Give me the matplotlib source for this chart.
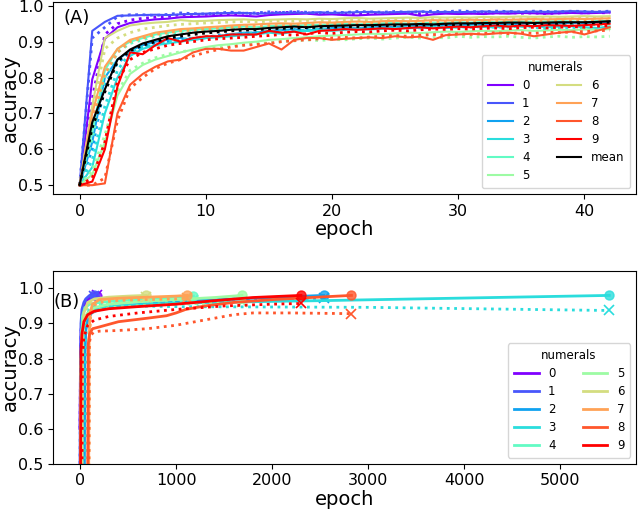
import numpy as np
import matplotlib
matplotlib.use("Agg")
import matplotlib.pyplot as plt

#--- Panel A: accuracy per epoch, solid = train, dotted = test
acc_0 = [0.5, 0.795, 0.908, 0.94, 0.952, 0.958, 0.962, 0.964, 0.968, 0.969, 0.97, 0.972, 0.973, 0.972, 0.97, 0.974, 0.976, 0.977, 0.978, 0.975, 0.976, 0.974, 0.973, 0.975, 0.976, 0.977, 0.978, 0.972, 0.976, 0.978, 0.977, 0.978, 0.977, 0.979, 0.978, 0.98, 0.979, 0.978, 0.979, 0.98, 0.979, 0.98, 0.981]
acc_0_dot = [0.5, 0.74, 0.92, 0.95, 0.96, 0.965, 0.968, 0.97, 0.975, 0.976, 0.976, 0.978, 0.977, 0.979, 0.978, 0.98, 0.981, 0.982, 0.98, 0.979, 0.978, 0.977, 0.976, 0.979, 0.98, 0.981, 0.98, 0.978, 0.979, 0.981, 0.982, 0.98, 0.979, 0.98, 0.981, 0.979, 0.98, 0.978, 0.98, 0.981, 0.98, 0.981, 0.98]
acc_1 = [0.5, 0.93, 0.955, 0.972, 0.973, 0.974, 0.975, 0.974, 0.976, 0.977, 0.978, 0.979, 0.98, 0.98, 0.978, 0.979, 0.98, 0.981, 0.98, 0.982, 0.98, 0.981, 0.982, 0.983, 0.981, 0.982, 0.983, 0.984, 0.982, 0.983, 0.982, 0.983, 0.984, 0.983, 0.984, 0.983, 0.984, 0.983, 0.984, 0.985, 0.984, 0.983, 0.984]
acc_1_dot = [0.5, 0.91, 0.94, 0.97, 0.975, 0.975, 0.973, 0.976, 0.98, 0.978, 0.977, 0.98, 0.982, 0.979, 0.98, 0.983, 0.981, 0.984, 0.982, 0.98, 0.983, 0.981, 0.984, 0.983, 0.982, 0.984, 0.982, 0.983, 0.985, 0.983, 0.986, 0.984, 0.983, 0.985, 0.984, 0.983, 0.985, 0.984, 0.983, 0.985, 0.984, 0.983, 0.985]
acc_2 = [0.5, 0.62, 0.80, 0.85, 0.875, 0.89, 0.9, 0.905, 0.91, 0.905, 0.91, 0.915, 0.92, 0.925, 0.925, 0.93, 0.932, 0.935, 0.93, 0.935, 0.938, 0.94, 0.937, 0.94, 0.942, 0.94, 0.945, 0.943, 0.945, 0.947, 0.945, 0.948, 0.947, 0.95, 0.948, 0.95, 0.952, 0.95, 0.951, 0.953, 0.952, 0.954, 0.955]
acc_2_dot = [0.5, 0.6, 0.78, 0.84, 0.87, 0.885, 0.895, 0.9, 0.905, 0.91, 0.912, 0.918, 0.92, 0.922, 0.925, 0.928, 0.93, 0.932, 0.933, 0.935, 0.936, 0.938, 0.936, 0.939, 0.94, 0.942, 0.941, 0.943, 0.944, 0.945, 0.944, 0.946, 0.947, 0.946, 0.948, 0.947, 0.949, 0.95, 0.948, 0.95, 0.951, 0.95, 0.952]
acc_3 = [0.5, 0.55, 0.70, 0.80, 0.86, 0.88, 0.89, 0.895, 0.9, 0.905, 0.91, 0.912, 0.915, 0.918, 0.92, 0.925, 0.922, 0.928, 0.93, 0.932, 0.93, 0.933, 0.935, 0.934, 0.936, 0.938, 0.937, 0.939, 0.94, 0.938, 0.94, 0.942, 0.941, 0.94, 0.943, 0.942, 0.944, 0.94, 0.942, 0.943, 0.94, 0.938, 0.942]
acc_3_dot = [0.5, 0.57, 0.72, 0.82, 0.87, 0.885, 0.89, 0.9, 0.905, 0.91, 0.915, 0.915, 0.92, 0.922, 0.925, 0.928, 0.93, 0.93, 0.932, 0.935, 0.933, 0.936, 0.935, 0.937, 0.938, 0.936, 0.94, 0.938, 0.94, 0.939, 0.941, 0.94, 0.942, 0.94, 0.941, 0.943, 0.94, 0.936, 0.938, 0.94, 0.937, 0.935, 0.936]
acc_4 = [0.5, 0.65, 0.82, 0.88, 0.9, 0.91, 0.92, 0.925, 0.93, 0.933, 0.935, 0.937, 0.94, 0.942, 0.94, 0.943, 0.945, 0.944, 0.946, 0.947, 0.948, 0.95, 0.948, 0.95, 0.951, 0.952, 0.95, 0.951, 0.953, 0.952, 0.954, 0.953, 0.955, 0.954, 0.955, 0.956, 0.955, 0.956, 0.957, 0.956, 0.955, 0.957, 0.958]
acc_4_dot = [0.5, 0.63, 0.8, 0.87, 0.895, 0.905, 0.915, 0.92, 0.925, 0.928, 0.93, 0.933, 0.935, 0.937, 0.936, 0.94, 0.938, 0.94, 0.942, 0.94, 0.943, 0.944, 0.942, 0.945, 0.944, 0.946, 0.945, 0.947, 0.946, 0.948, 0.947, 0.946, 0.948, 0.949, 0.947, 0.948, 0.95, 0.948, 0.949, 0.95, 0.948, 0.947, 0.949]
acc_5 = [0.5, 0.53, 0.62, 0.75, 0.81, 0.835, 0.85, 0.86, 0.87, 0.878, 0.885, 0.89, 0.893, 0.897, 0.9, 0.905, 0.907, 0.91, 0.912, 0.915, 0.917, 0.918, 0.92, 0.922, 0.921, 0.923, 0.925, 0.924, 0.926, 0.928, 0.927, 0.929, 0.93, 0.929, 0.931, 0.932, 0.93, 0.931, 0.933, 0.932, 0.934, 0.933, 0.935]
acc_5_dot = [0.5, 0.54, 0.64, 0.76, 0.82, 0.84, 0.855, 0.865, 0.872, 0.876, 0.88, 0.885, 0.888, 0.89, 0.895, 0.897, 0.9, 0.902, 0.905, 0.903, 0.906, 0.905, 0.908, 0.91, 0.907, 0.91, 0.912, 0.91, 0.913, 0.91, 0.915, 0.912, 0.914, 0.913, 0.915, 0.912, 0.91, 0.913, 0.915, 0.912, 0.914, 0.913, 0.915]
acc_6 = [0.5, 0.72, 0.91, 0.93, 0.945, 0.95, 0.953, 0.955, 0.96, 0.957, 0.958, 0.96, 0.961, 0.962, 0.96, 0.961, 0.962, 0.963, 0.962, 0.964, 0.963, 0.965, 0.966, 0.964, 0.965, 0.966, 0.967, 0.966, 0.968, 0.967, 0.968, 0.967, 0.969, 0.968, 0.969, 0.97, 0.969, 0.97, 0.969, 0.97, 0.971, 0.97, 0.971]
acc_6_dot = [0.5, 0.7, 0.88, 0.91, 0.925, 0.935, 0.94, 0.945, 0.948, 0.95, 0.952, 0.953, 0.955, 0.956, 0.955, 0.957, 0.958, 0.957, 0.959, 0.96, 0.958, 0.96, 0.961, 0.96, 0.962, 0.961, 0.963, 0.962, 0.963, 0.964, 0.963, 0.964, 0.965, 0.964, 0.965, 0.964, 0.966, 0.965, 0.964, 0.965, 0.966, 0.965, 0.966]
acc_7 = [0.5, 0.70, 0.83, 0.88, 0.905, 0.915, 0.925, 0.93, 0.935, 0.937, 0.94, 0.942, 0.945, 0.947, 0.948, 0.95, 0.951, 0.95, 0.952, 0.954, 0.953, 0.955, 0.956, 0.955, 0.957, 0.958, 0.957, 0.958, 0.96, 0.959, 0.96, 0.961, 0.96, 0.962, 0.961, 0.962, 0.963, 0.962, 0.963, 0.964, 0.963, 0.964, 0.965]
acc_7_dot = [0.5, 0.68, 0.81, 0.87, 0.9, 0.91, 0.92, 0.925, 0.93, 0.932, 0.935, 0.938, 0.94, 0.942, 0.943, 0.945, 0.944, 0.946, 0.948, 0.947, 0.949, 0.95, 0.949, 0.951, 0.952, 0.951, 0.953, 0.952, 0.954, 0.953, 0.955, 0.954, 0.955, 0.956, 0.955, 0.956, 0.957, 0.956, 0.957, 0.958, 0.957, 0.958, 0.958]
acc_8 = [0.5, 0.5, 0.505, 0.70, 0.78, 0.81, 0.83, 0.845, 0.85, 0.87, 0.88, 0.88, 0.875, 0.875, 0.885, 0.895, 0.878, 0.905, 0.91, 0.91, 0.905, 0.908, 0.91, 0.912, 0.91, 0.915, 0.912, 0.914, 0.905, 0.918, 0.92, 0.922, 0.92, 0.923, 0.925, 0.922, 0.915, 0.92, 0.925, 0.928, 0.92, 0.93, 0.94]
acc_8_dot = [0.5, 0.5, 0.52, 0.68, 0.77, 0.80, 0.825, 0.84, 0.85, 0.86, 0.87, 0.878, 0.885, 0.89, 0.892, 0.895, 0.9, 0.903, 0.905, 0.908, 0.91, 0.912, 0.91, 0.913, 0.915, 0.917, 0.915, 0.918, 0.92, 0.918, 0.922, 0.92, 0.923, 0.925, 0.922, 0.925, 0.923, 0.926, 0.925, 0.927, 0.928, 0.93, 0.932]
acc_9 = [0.5, 0.51, 0.60, 0.775, 0.87, 0.865, 0.89, 0.91, 0.90, 0.91, 0.915, 0.915, 0.92, 0.92, 0.92, 0.93, 0.925, 0.928, 0.92, 0.93, 0.932, 0.935, 0.933, 0.935, 0.937, 0.935, 0.938, 0.94, 0.937, 0.94, 0.942, 0.94, 0.943, 0.945, 0.942, 0.945, 0.943, 0.946, 0.945, 0.944, 0.946, 0.948, 0.95]
acc_9_dot = [0.5, 0.52, 0.62, 0.79, 0.85, 0.87, 0.88, 0.89, 0.895, 0.9, 0.905, 0.908, 0.91, 0.912, 0.915, 0.917, 0.92, 0.918, 0.922, 0.925, 0.923, 0.926, 0.928, 0.927, 0.93, 0.932, 0.93, 0.933, 0.935, 0.934, 0.936, 0.935, 0.937, 0.938, 0.936, 0.939, 0.94, 0.938, 0.94, 0.942, 0.94, 0.943, 0.945]
acc_mean = [0.5, 0.675, 0.767, 0.85, 0.878, 0.895, 0.905, 0.915, 0.92, 0.925, 0.928, 0.93, 0.933, 0.935, 0.935, 0.938, 0.94, 0.942, 0.94, 0.943, 0.944, 0.945, 0.946, 0.946, 0.947, 0.948, 0.948, 0.949, 0.948, 0.95, 0.951, 0.951, 0.952, 0.952, 0.953, 0.953, 0.952, 0.953, 0.954, 0.954, 0.954, 0.955, 0.957]
acc_mean_dot = [0.5, 0.66, 0.76, 0.845, 0.875, 0.89, 0.9, 0.91, 0.915, 0.92, 0.924, 0.927, 0.93, 0.932, 0.933, 0.936, 0.937, 0.938, 0.939, 0.94, 0.94, 0.942, 0.942, 0.943, 0.944, 0.945, 0.945, 0.946, 0.946, 0.947, 0.948, 0.948, 0.949, 0.949, 0.95, 0.95, 0.95, 0.951, 0.951, 0.952, 0.952, 0.953, 0.954]

acc_a = [acc_0, acc_1, acc_2, acc_3, acc_4, acc_5, acc_6, acc_7, acc_8, acc_9]
acc_a_dot = [acc_0_dot, acc_1_dot, acc_2_dot, acc_3_dot, acc_4_dot, acc_5_dot, acc_6_dot, acc_7_dot, acc_8_dot, acc_9_dot]

#--- Panel B: accuracy vs epoch, run until stopping (solid train, dotted test)
b_x = [
    [0, 5, 15, 30, 50, 70, 90, 110, 130, 150, 170, 180],
    [0, 5, 10, 20, 40, 60, 80, 100, 120, 140, 150],
    [45, 50, 60, 80, 120, 200, 400, 800, 1200, 1800, 2536],
    [20, 25, 35, 60, 100, 200, 500, 1000, 2000, 2500, 5510],
    [10, 15, 25, 50, 100, 200, 400, 700, 1000, 1181],
    [5, 10, 20, 40, 80, 150, 300, 600, 1000, 1400, 1686],
    [20, 25, 40, 80, 150, 300, 500, 684],
    [90, 95, 105, 130, 200, 400, 700, 1000, 1116],
    [80, 85, 100, 130, 200, 400, 700, 900, 1000, 1100, 1300, 1600, 2000, 2400, 2826],
    [5, 10, 20, 40, 80, 150, 300, 600, 1000, 1400, 1800, 2300],
]
b_y = [
    [0.6, 0.8, 0.9, 0.94, 0.955, 0.965, 0.97, 0.975, 0.985, 0.975, 0.98, 0.978],
    [0.5, 0.75, 0.9, 0.94, 0.96, 0.97, 0.975, 0.98, 0.975, 0.982, 0.98],
    [0.45, 0.80, 0.88, 0.91, 0.93, 0.94, 0.95, 0.958, 0.965, 0.972, 0.98],
    [0.45, 0.8, 0.88, 0.92, 0.935, 0.945, 0.952, 0.958, 0.963, 0.965, 0.98],
    [0.5, 0.85, 0.92, 0.945, 0.955, 0.96, 0.965, 0.97, 0.975, 0.978],
    [0.5, 0.8, 0.88, 0.91, 0.93, 0.945, 0.955, 0.962, 0.968, 0.974, 0.98],
    [0.5, 0.85, 0.93, 0.96, 0.97, 0.975, 0.978, 0.98],
    [0.45, 0.85, 0.93, 0.955, 0.968, 0.972, 0.975, 0.978, 0.98],
    [0.45, 0.84, 0.87, 0.885, 0.89, 0.905, 0.915, 0.922, 0.93, 0.94, 0.95, 0.96, 0.968, 0.974, 0.98],
    [0.45, 0.82, 0.87, 0.905, 0.925, 0.935, 0.942, 0.948, 0.955, 0.965, 0.974, 0.98],
]
b_x_dot = [
    [0, 5, 15, 30, 50, 70, 90, 110, 130, 150, 170, 180],
    [0, 5, 10, 20, 40, 60, 80, 100, 120, 140, 150],
    [45, 50, 60, 80, 120, 200, 400, 800, 1200, 1800, 2536],
    [55, 60, 70, 100, 200, 500, 1000, 2000, 3000, 5510],
    [10, 15, 25, 50, 100, 200, 400, 700, 1000, 1181],
    [5, 10, 20, 40, 80, 150, 300, 600, 1000, 1400, 1686],
    [20, 25, 40, 80, 150, 300, 500, 684],
    [95, 100, 110, 140, 200, 400, 700, 1000, 1116],
    [90, 95, 110, 140, 200, 400, 700, 1000, 1300, 1600, 1800, 2200, 2826],
    [20, 25, 40, 80, 150, 300, 600, 1000, 1500, 2000, 2300],
]
b_y_dot = [
    [0.6, 0.78, 0.9, 0.93, 0.95, 0.96, 0.97, 0.98, 0.975, 0.985, 0.98, 0.982],
    [0.5, 0.72, 0.88, 0.93, 0.955, 0.965, 0.97, 0.975, 0.98, 0.975, 0.978],
    [0.45, 0.82, 0.9, 0.93, 0.945, 0.955, 0.96, 0.965, 0.968, 0.97, 0.972],
    [0.45, 0.85, 0.92, 0.94, 0.947, 0.95, 0.948, 0.947, 0.946, 0.937],
    [0.5, 0.83, 0.9, 0.935, 0.95, 0.955, 0.96, 0.963, 0.965, 0.967],
    [0.5, 0.78, 0.86, 0.9, 0.92, 0.935, 0.945, 0.95, 0.955, 0.958, 0.96],
    [0.5, 0.83, 0.92, 0.955, 0.965, 0.97, 0.972, 0.975],
    [0.45, 0.85, 0.92, 0.95, 0.96, 0.966, 0.968, 0.97, 0.972],
    [0.45, 0.84, 0.865, 0.875, 0.878, 0.88, 0.885, 0.895, 0.91, 0.925, 0.93, 0.93, 0.928],
    [0.45, 0.8, 0.86, 0.895, 0.91, 0.92, 0.93, 0.94, 0.95, 0.955, 0.957],
]

numerals = [str(i) for i in range(10)]
colors = plt.cm.rainbow(np.linspace(0, 1, 10))

fig = plt.figure(figsize=(6.4, 5.13), dpi=100)
ax_a = fig.add_axes([0.083, 0.622, 0.911, 0.374])
ax_b = fig.add_axes([0.083, 0.096, 0.911, 0.376])

legend_kw = dict(title="numerals", ncol=2, loc='lower right', fontsize=8.5, title_fontsize=8.5,
                 columnspacing=2.3, handlelength=2.1, borderpad=0.5, labelspacing=0.42)

#--- (A)
for i in range(10):
    ax_a.plot(np.arange(len(acc_a[i])), acc_a[i], color=colors[i], lw=1.5, label=numerals[i])
    ax_a.plot(np.arange(len(acc_a_dot[i])), acc_a_dot[i], color=colors[i], lw=2, ls=':')
ax_a.plot(np.arange(len(acc_mean)), acc_mean, color='k', lw=1.5, label='mean')
ax_a.plot(np.arange(len(acc_mean_dot)), acc_mean_dot, color='k', lw=2, ls=':')
ax_a.set_xlabel("epoch", fontsize=14, labelpad=1)
ax_a.set_ylabel("accuracy", fontsize=14)
ax_a.yaxis.set_label_coords(-0.057, 0.5)
ax_a.tick_params(labelsize=11.5)
ax_a.text(0.017, 0.915, "(A)", transform=ax_a.transAxes, fontsize=13, va='center', ha='left')
ax_a.legend(**legend_kw)

#--- (B)
for i in range(10):
    ax_b.plot(b_x[i], b_y[i], color=colors[i], lw=2, label=numerals[i])
    ax_b.plot(b_x[i][-1], b_y[i][-1], 'o', color=colors[i], ms=6.5, alpha=0.8)
    ax_b.plot(b_x_dot[i], b_y_dot[i], color=colors[i], lw=2, ls=':')
    ax_b.plot(b_x_dot[i][-1], b_y_dot[i][-1], 'x', color=colors[i], ms=7, mew=1.2)
ax_b.set_ylim(0.5, 1.05)
ax_b.set_xlim(-280, 5790)
ax_b.set_yticks([0.5, 0.6, 0.7, 0.8, 0.9, 1.0])
ax_b.set_xlabel("epoch", fontsize=14, labelpad=1)
ax_b.set_ylabel("accuracy", fontsize=14)
ax_b.yaxis.set_label_coords(-0.057, 0.5)
ax_b.tick_params(labelsize=11.5)
ax_b.text(0.0, 0.84, "(B)", transform=ax_b.transAxes, fontsize=13, va='center', ha='left')
ax_b.legend(**legend_kw)

plt.savefig("out.png", dpi=100)
plt.close()
